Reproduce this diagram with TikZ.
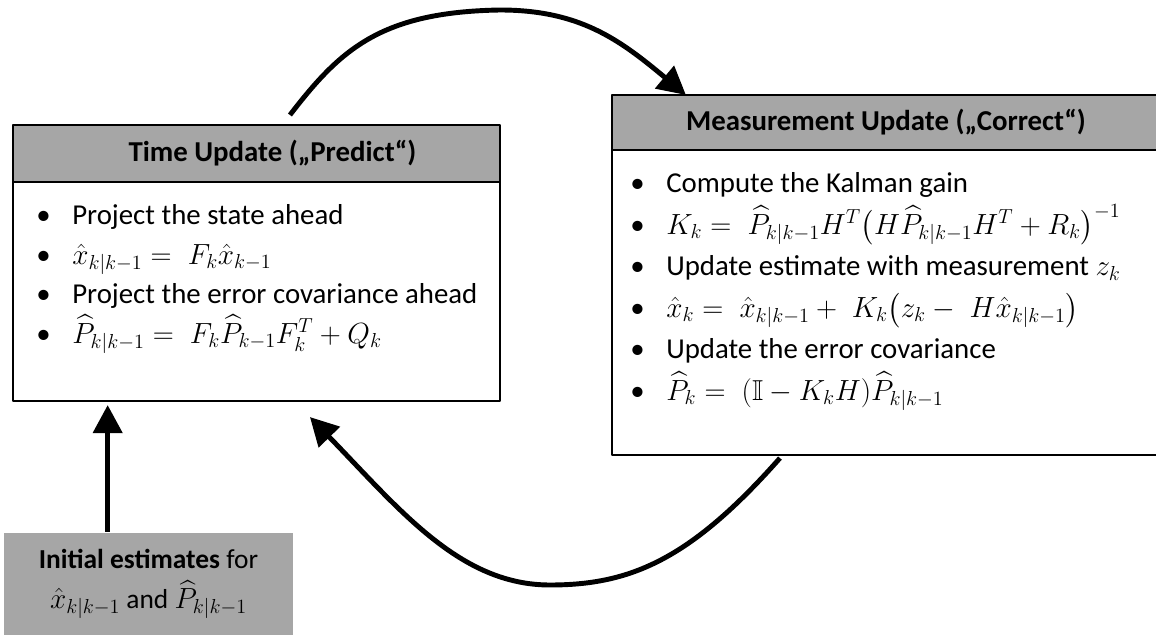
\documentclass[tikz,border=0pt]{standalone}
\usepackage{amsmath,amssymb}
\usepackage{fontspec}
\setmainfont{Carlito}
\usetikzlibrary{arrows.meta,calc}
\usetikzlibrary{positioning}
\definecolor{boxgray}{RGB}{166,166,166}
\tikzset{hdr/.style={draw,line width=1.6pt,fill=boxgray,outer sep=0pt,inner sep=0pt,font=\bfseries\fontsize{20.5}{24}\selectfont},
  body/.style={draw,line width=1.6pt,fill=white,outer sep=0pt,inner sep=0pt},
  itm/.style={anchor=base west,inner sep=0pt,font=\fontsize{20.5}{24}\selectfont},
  flow/.style={line width=3.5pt,-{Triangle[length=0.7cm,width=0.72cm]}}}
\newcommand{\bul}{\makebox[0.9cm][l]{\textbullet}}

\begin{document}
\begin{tikzpicture}[x=0.025cm,y=-0.025cm,line join=round]
\useasboundingbox (0,0) rectangle (1156,635);
% --- time update (predict)
\node[hdr,minimum width=12.175cm,minimum height=1.425cm] (tuh) at (256.5,153.5) {\hspace*{0.8cm}Time Update („Predict“)};
\node[body,minimum width=12.175cm,minimum height=5.475cm,below=0pt of tuh] (tub) {};
\node[itm] (tu1) at (36,225) {\bul Project the state ahead};
\node[itm] (tu2) at (36,264.5) {\bul $\hat{x}_{k|k-1} =\; F_k\hat{x}_{k-1}$};
\node[itm] (tu3) at (36,304) {\bul Project the error covariance ahead};
\node[itm] (tu4) at (36,343.5) {\bul $\widehat{P}_{k|k-1} =\; F_k\widehat{P}_{k-1}F_k^T + Q_k$};
% --- measurement update (correct)
\node[hdr,minimum width=13.7cm,minimum height=1.375cm] (muh) at (886,122.5) {Measurement Update („Correct“)};
\node[body,minimum width=13.7cm,minimum height=7.625cm,below=0pt of muh] (mub) {};
\node[itm] (mu1) at (630,193) {\bul Compute the Kalman gain};
\node[itm] (mu2) at (630,234.5) {\bul $K_k =\; \widehat{P}_{k|k-1}H^T\bigl(H\widehat{P}_{k|k-1}H^T + R_k\bigr)^{-1}$};
\node[itm] (mu3) at (630,276) {\bul Update estimate with measurement $z_k$};
\node[itm] (mu4) at (630,317.5) {\bul $\hat{x}_k =\; \hat{x}_{k|k-1} +\; K_k\bigl(z_k -\; H\hat{x}_{k|k-1}\bigr)$};
\node[itm] (mu5) at (630,359) {\bul Update the error covariance};
\node[itm] (mu6) at (630,400.5) {\bul $\widehat{P}_k =\; (\mathbb{I} - K_kH)\widehat{P}_{k|k-1}$};
% --- initial estimates
\node[fill=boxgray,minimum width=7.225cm,minimum height=2.55cm,align=center,inner sep=0pt,
  font=\fontsize{19.5}{28.5}\selectfont] (init) at (148.5,584)
  {\textbf{Initial estimates} for\\ $\hat{x}_{k|k-1}$ and $\widehat{P}_{k|k-1}$};
% --- arrows
\coordinate (ta) at ($(tuh.north west)+(277,-10)$);
\coordinate (tb) at ($(muh.north west)+(74,0)$);
\draw[flow] (ta) .. controls (340,50) and (380,12) .. (500,10) .. controls (580,10) and (620,40) .. (tb);
\coordinate (ba) at ($(mub.south west)+(168,3)$);
\coordinate (bb) at ($(tub.south west)+(297,16)$);
\draw[flow] (ba) .. controls (690,560) and (630,585) .. (550,585) .. controls (460,585) and (400,510) .. (bb);
\coordinate (ia) at ($(init.north west)+(104,-1)$);
\draw[flow,shorten >=0.1cm] (ia) -- (ia |- tub.south);
\end{tikzpicture}
\end{document}
